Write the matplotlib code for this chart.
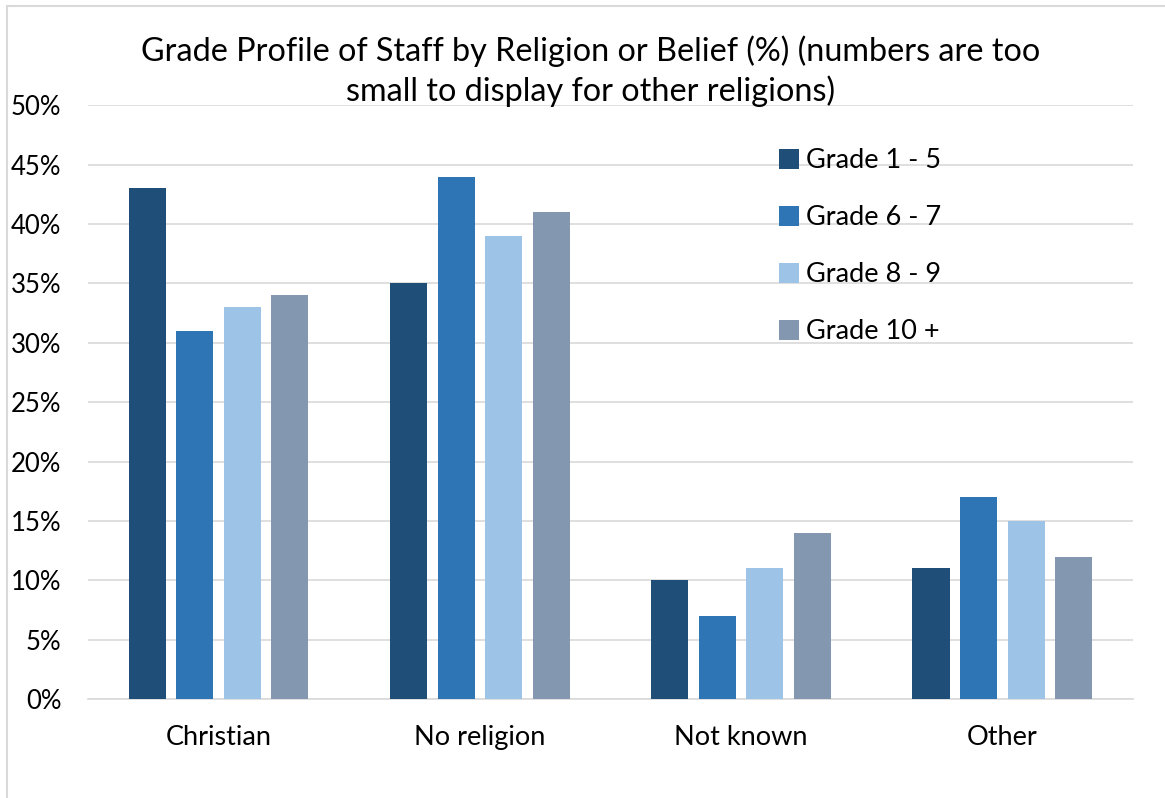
import matplotlib.pyplot as plt
import numpy as np
from matplotlib.patches import Rectangle

plt.rcParams['font.family'] = ['Lato', 'DejaVu Sans']

categories = ['Christian', 'No religion', 'Not known', 'Other']
grades = ['Grade 1 - 5', 'Grade 6 - 7', 'Grade 8 - 9', 'Grade 10 +']
grade_1_5 = [43, 35, 10, 11]
grade_6_7 = [31, 44, 7, 17]
grade_8_9 = [33, 39, 11, 15]
grade_10 = [34, 41, 14, 12]
colors = ['#1F4E79', '#2E75B6', '#9DC3E6', '#8497B0']

series = [grade_1_5, grade_6_7, grade_8_9, grade_10]

fig = plt.figure(figsize=(11.65, 7.98), dpi=100)
ax = fig.add_axes([0.0755, 0.124, 0.897, 0.744])

x = np.arange(len(categories))
w = 0.142
step = 0.182
for i, vals in enumerate(series):
    ax.bar(x + (i - 1.5) * step, vals, width=w, color=colors[i], label=grades[i], zorder=3)

ax.set_xlim(-0.5, 3.5)
ax.set_ylim(0, 50)
ax.set_yticks(range(0, 51, 5))
ax.set_yticklabels([f'{v}%' for v in range(0, 51, 5)], fontsize=18.5)
ax.set_xticks(x)
ax.set_xticklabels(categories, fontsize=19.5)
ax.tick_params(length=0)
ax.tick_params(axis='x', pad=19)
ax.tick_params(axis='y', pad=19)
ax.grid(axis='y', color='#D9D9D9', linewidth=1.2, zorder=0)
for s in ['top', 'right', 'left']:
    ax.spines[s].set_visible(False)
ax.spines['bottom'].set_color('#D9D9D9')
ax.spines['bottom'].set_linewidth(1.2)

ax.legend(loc='upper left', bbox_to_anchor=(0.651, 0.946), frameon=False, fontsize=19.5,
          handlelength=0.75, handleheight=0.75, handletextpad=0.25, labelspacing=1.18,
          borderaxespad=0)

fig.text(0.507, 0.911, 'Grade Profile of Staff by Religion or Belief (%) (numbers are too\nsmall to display for other religions)',
         ha='center', va='center', fontsize=23.3, linespacing=1.33)

fig.patches.append(Rectangle((0.006, -0.01), 1.1, 1.002, transform=fig.transFigure,
                             fill=False, edgecolor='#D9D9D9', linewidth=1.5))

fig.savefig('out.png', dpi=100)
